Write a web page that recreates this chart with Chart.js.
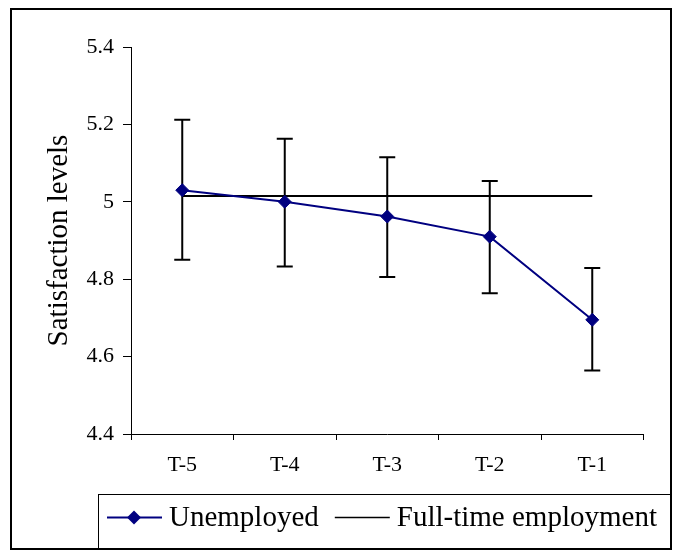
<!DOCTYPE html>
<html>
<head>
<meta charset="utf-8">
<script src="https://cdn.jsdelivr.net/npm/chart.js@4.4.0/dist/chart.umd.min.js"></script>
<style>
  html, body { margin: 0; padding: 0; background: #fff; }
  canvas { display: block; }
</style>
</head>
<body>
<canvas id="myChart" width="681" height="556"></canvas>
<script>
// values
const periods = ['T-5', 'T-4', 'T-3', 'T-2', 'T-1'];
const unemployed = [5.03, 5.0, 4.962, 4.91, 4.695];
const unemployedHigh = [5.212, 5.163, 5.115, 5.054, 4.829];
const unemployedLow = [4.85, 4.833, 4.806, 4.764, 4.564];
const fullTime = [5.015, 5.015, 5.015, 5.015, 5.015];
const yTicks = [4.4, 4.6, 4.8, 5.0, 5.2, 5.4];

const serif = "'Liberation Serif', 'Times New Roman', serif";
const navy = '#000080';

// vertical error bars with caps, drawn under the lines
const errorBars = {
  id: 'errorBars',
  beforeDatasetsDraw(chart) {
    const ctx = chart.ctx;
    const xs = chart.scales.x;
    const ys = chart.scales.y;
    ctx.save();
    ctx.strokeStyle = '#000';
    ctx.lineWidth = 2;
    unemployed.forEach((v, i) => {
      const px = xs.getPixelForValue(i);
      const top = ys.getPixelForValue(unemployedHigh[i]);
      const bot = ys.getPixelForValue(unemployedLow[i]);
      ctx.beginPath();
      ctx.moveTo(px, top);
      ctx.lineTo(px, bot);
      ctx.moveTo(px - 8, top);
      ctx.lineTo(px + 8, top);
      ctx.moveTo(px - 8, bot);
      ctx.lineTo(px + 8, bot);
      ctx.stroke();
    });
    ctx.restore();
  }
};

// outer frame and boxed legend
const frameAndLegend = {
  id: 'frameAndLegend',
  afterDraw(chart) {
    const ctx = chart.ctx;
    const sets = chart.data.datasets;
    ctx.save();
    ctx.strokeStyle = '#000';
    ctx.lineWidth = 2;
    ctx.strokeRect(11, 9, 660, 540);
    ctx.lineWidth = 1;
    ctx.strokeRect(98.5, 494.5, 572, 54);

    const ly = 517.5;
    ctx.font = '29px ' + serif;
    ctx.textBaseline = 'middle';
    ctx.fillStyle = '#000';

    // Unemployed
    let x = 107;
    ctx.strokeStyle = navy;
    ctx.lineWidth = 2;
    ctx.beginPath();
    ctx.moveTo(x, ly);
    ctx.lineTo(x + 55, ly);
    ctx.stroke();
    ctx.fillStyle = navy;
    ctx.beginPath();
    ctx.moveTo(x + 27, ly - 7);
    ctx.lineTo(x + 34, ly);
    ctx.lineTo(x + 27, ly + 7);
    ctx.lineTo(x + 20, ly);
    ctx.closePath();
    ctx.fill();
    ctx.fillStyle = '#000';
    x += 62;
    ctx.fillText(sets[0].label, x, ly + 1);
    x += ctx.measureText(sets[0].label).width + 16;

    // Full-time employment
    ctx.strokeStyle = '#000';
    ctx.lineWidth = 1.5;
    ctx.beginPath();
    ctx.moveTo(x, ly);
    ctx.lineTo(x + 55, ly);
    ctx.stroke();
    x += 62;
    ctx.fillText(sets[1].label, x, ly + 1);
    ctx.restore();
  }
};

const myChart = new Chart(document.getElementById('myChart'), {
  type: 'line',
  data: {
    labels: periods,
    datasets: [
      {
        label: 'Unemployed',
        data: unemployed,
        borderColor: navy,
        backgroundColor: navy,
        borderWidth: 2,
        pointStyle: 'rectRot',
        pointRadius: 6.5,
        pointHoverRadius: 6.5,
        pointBorderWidth: 1,
        tension: 0
      },
      {
        label: 'Full-time employment',
        data: fullTime,
        borderColor: '#000',
        borderWidth: 2,
        pointRadius: 0,
        pointHoverRadius: 0,
        tension: 0
      }
    ]
  },
  options: {
    responsive: false,
    animation: false,
    devicePixelRatio: 1,
    layout: { padding: { left: 10, top: 47, right: 37.5, bottom: 0 } },
    plugins: {
      legend: { display: false },
      tooltip: { enabled: false }
    },
    scales: {
      x: {
        offset: true,
        grid: { offset: true, drawOnChartArea: false, drawTicks: true, tickLength: 6, color: '#000', lineWidth: 1 },
        border: { display: true, color: '#000', width: 1 },
        ticks: { color: '#000', font: { family: serif, size: 22 }, padding: 12, maxRotation: 0 },
        afterFit(scale) { scale.height = 122; }
      },
      y: {
        min: 4.4,
        max: 5.4,
        afterBuildTicks(scale) { scale.ticks = yTicks.map(v => ({ value: v })); },
        grid: { drawOnChartArea: false, drawTicks: true, tickLength: 8, color: '#000', lineWidth: 1 },
        border: { display: true, color: '#000', width: 1 },
        ticks: {
          color: '#000',
          font: { family: serif, size: 22 },
          padding: 9,
          callback: v => String(Math.round(v * 10) / 10)
        },
        title: {
          display: true,
          text: 'Satisfaction levels',
          color: '#000',
          font: { family: serif, size: 29 },
          padding: { top: 31.6, bottom: 0 }
        },
        afterFit(scale) { scale.width = 121; }
      }
    }
  },
  plugins: [errorBars, frameAndLegend]
});
</script>
</body>
</html>
